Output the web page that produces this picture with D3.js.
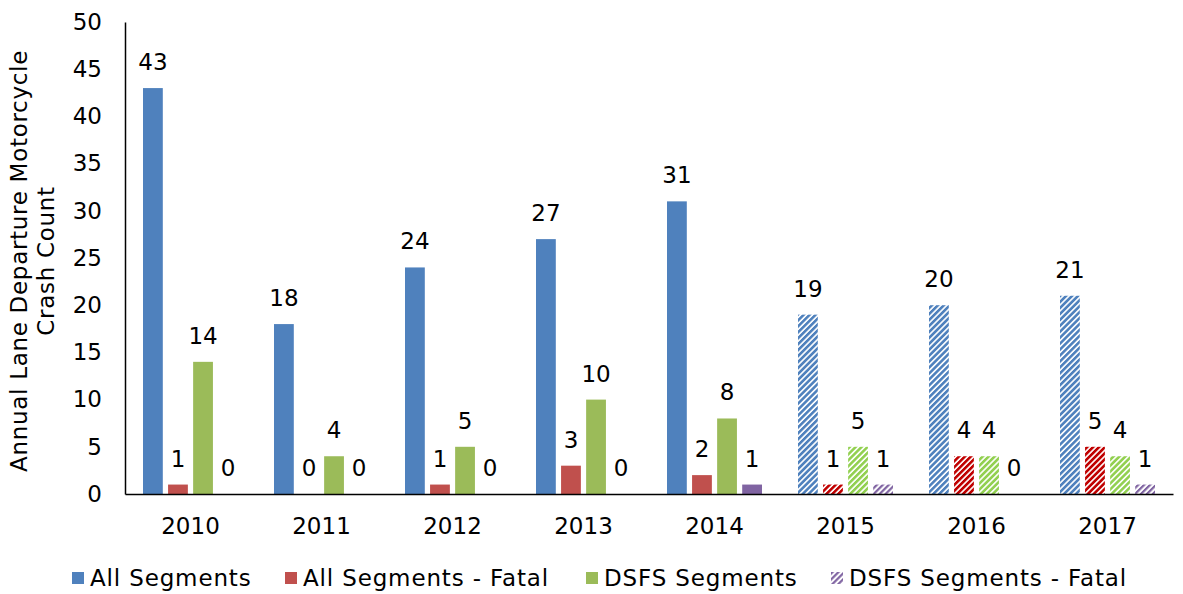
<!DOCTYPE html>
<html>
<head>
<meta charset="utf-8">
<script src="https://cdn.jsdelivr.net/npm/d3@7"></script>
<style>
  html, body { margin: 0; padding: 0; background: #fff; }
  svg text { font-family: "DejaVu Sans", Verdana, sans-serif; fill: #000; }
</style>
</head>
<body>
<svg id="chart" width="1183" height="594"></svg>
<script>
// Annual lane departure motorcycle crash counts by year
const years = ["2010", "2011", "2012", "2013", "2014", "2015", "2016", "2017"];
const allSegments      = [43, 18, 24, 27, 31, 19, 20, 21];
const allSegmentsFatal = [1, 0, 1, 3, 2, 1, 4, 5];
const dsfsSegments     = [14, 4, 5, 10, 8, 5, 4, 4];
const dsfsSegmentsFatal = [0, 0, 0, 0, 1, 1, 0, 1];
const seriesNames = ["All Segments", "All Segments - Fatal", "DSFS Segments", "DSFS Segments - Fatal"];
const yTicks = [0, 5, 10, 15, 20, 25, 30, 35, 40, 45, 50];
// Years from this one onward are drawn hatched
const hatchedFrom = "2015";

const seriesValues = [allSegments, allSegmentsFatal, dsfsSegments, dsfsSegmentsFatal];
const solidColors = ["#4F81BD", "#C0504D", "#9BBB59", "#8064A2"];
const hatchColors = ["#4F81BD", "#C00000", "#92D050", "#8064A2"];

const svg = d3.select("#chart");
const plotTop = 22;
const plotBottom = 494;

const x = d3.scaleBand().domain(years).range([125, 1173]).padding(0);
const y = d3.scaleLinear().domain([0, 50]).range([plotBottom, plotTop]);
const sub = d3.scaleBand().domain(d3.range(4)).range([-47.5, 47.5]).paddingInner(0.21).paddingOuter(0);

// hatch patterns
const defs = svg.append("defs");
hatchColors.forEach((c, i) => {
  const p = defs.append("pattern")
    .attr("id", "hatch" + i)
    .attr("patternUnits", "userSpaceOnUse")
    .attr("width", 4.2).attr("height", 4.2)
    .attr("patternTransform", "rotate(45)");
  p.append("rect").attr("width", 4.2).attr("height", 4.2).attr("fill", "#fff");
  p.append("rect").attr("x", 0).attr("y", 0).attr("width", i === 3 ? 2.2 : 2.6).attr("height", 4.2).attr("fill", c);
});

// bars
const data = [];
years.forEach((yr, j) => {
  seriesValues.forEach((vals, i) => {
    data.push({ year: yr, series: i, value: vals[j] });
  });
});

const g = svg.append("g");
g.selectAll("rect.bar").data(data).join("rect")
  .attr("class", "bar")
  .attr("x", d => x(d.year) + x.bandwidth() / 2 + sub(d.series))
  .attr("width", sub.bandwidth())
  .attr("y", d => y(d.value))
  .attr("height", d => plotBottom - y(d.value))
  .attr("fill", d => +d.year >= +hatchedFrom ? `url(#hatch${d.series})` : solidColors[d.series]);

// value labels
g.selectAll("text.val").data(data).join("text")
  .attr("class", "val")
  .attr("x", d => x(d.year) + x.bandwidth() / 2 + sub(d.series) + sub.bandwidth() / 2)
  .attr("y", d => y(d.value) - 18)
  .attr("text-anchor", "middle")
  .style("font-size", "23px")
  .text(d => d.value);

// y axis
const yAxis = d3.axisLeft(y).tickValues(yTicks).tickSize(0).tickPadding(23);
const ya = svg.append("g").attr("transform", "translate(125,0)").call(yAxis);
ya.select(".domain").attr("stroke", "#000").attr("stroke-width", 1.5);
ya.selectAll("text").style("font-size", "23px").style("font-family", "DejaVu Sans, Verdana, sans-serif");

// x axis
const xAxis = d3.axisBottom(x).tickSize(0).tickPadding(24);
const xa = svg.append("g").attr("transform", `translate(0,${plotBottom})`).call(xAxis);
xa.select(".domain").attr("stroke", "#000").attr("stroke-width", 1.5);
xa.selectAll("text").style("font-size", "23px").style("font-family", "DejaVu Sans, Verdana, sans-serif");

// y axis title
const yt = svg.append("text")
  .attr("transform", "translate(32,261) rotate(-90)")
  .attr("text-anchor", "middle")
  .style("font-size", "23px")
  .style("letter-spacing", "0.7px");
yt.append("tspan").attr("x", 0).attr("dy", "-0.2em").text("Annual Lane Departure Motorcycle");
yt.append("tspan").attr("x", 0).attr("dy", "1.17em").text("Crash Count");

// legend
const legendX = [72, 285, 586, 831];
const lg = svg.append("g").attr("transform", "translate(0,578)");
seriesNames.forEach((name, i) => {
  const item = lg.append("g").attr("transform", `translate(${legendX[i]},0)`);
  item.append("rect").attr("x", 0).attr("y", -6).attr("width", 12).attr("height", 12)
    .attr("fill", i === 3 ? "url(#hatch3)" : solidColors[i]);
  item.append("text").attr("x", 18).attr("y", 0).attr("dy", "0.35em")
    .style("font-size", "23px").style("letter-spacing", "0.85px").text(name);
});
</script>
</body>
</html>
